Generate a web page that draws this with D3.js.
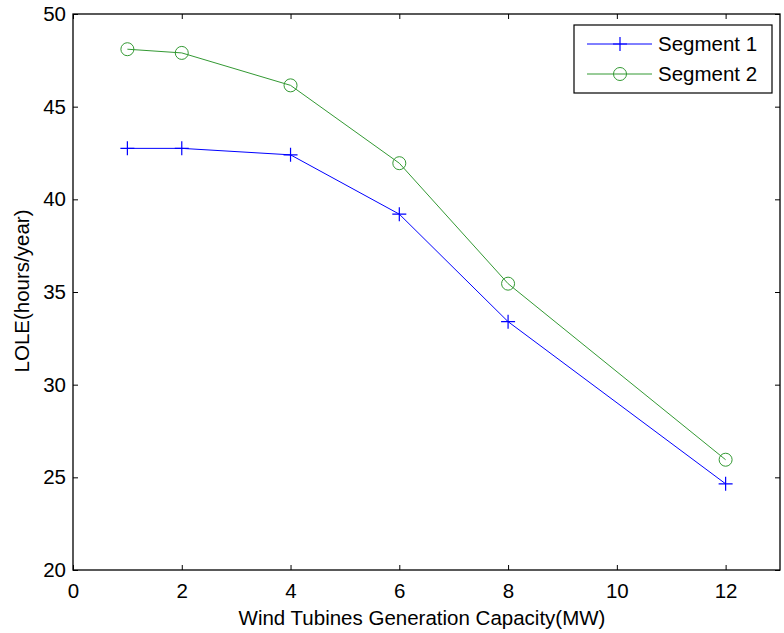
<!DOCTYPE html>
<html><head><meta charset="utf-8">
<script src="https://cdn.jsdelivr.net/npm/d3@7"></script>
<style>body{margin:0;background:#fff}svg{display:block}text{font-family:"Liberation Sans",Arial,sans-serif}</style>
</head><body>
<svg id="c" width="784" height="633"></svg>
<script>
const xValues = [1, 2, 4, 6, 8, 12];
const segment1 = [42.75, 42.75, 42.4, 39.2, 33.4, 24.65];
const segment2 = [48.1, 47.9, 46.15, 41.95, 35.45, 25.95];
const seriesNames = ["Segment 1", "Segment 2"];
const xTicks = [0, 2, 4, 6, 8, 10, 12];
const yTicks = [20, 25, 30, 35, 40, 45, 50];

const svg = d3.select("#c");
const L = 73, R = 780, T = 14, B = 570;
const FS = 20.5;
const x = d3.scaleLinear().domain([0, 13]).range([L, R]);
const y = d3.scaleLinear().domain([20, 50]).range([B, T]);

// box
svg.append("rect").attr("x", L).attr("y", T).attr("width", R - L).attr("height", B - T)
  .attr("fill", "none").attr("stroke", "#000").attr("stroke-width", 1.3);

svg.append("g").attr("transform", `translate(0,${B})`)
  .call(d3.axisBottom(x).tickValues(xTicks).tickSizeInner(-5).tickSizeOuter(0).tickPadding(13));
svg.append("g").attr("transform", `translate(${L},0)`)
  .call(d3.axisLeft(y).tickValues(yTicks).tickSizeInner(-5).tickSizeOuter(0).tickPadding(7));
svg.append("g").attr("transform", `translate(0,${T})`)
  .call(d3.axisTop(x).tickValues(xTicks).tickSizeInner(-5).tickSizeOuter(0).tickFormat(""));
svg.append("g").attr("transform", `translate(${R},0)`)
  .call(d3.axisRight(y).tickValues(yTicks).tickSizeInner(-5).tickSizeOuter(0).tickFormat(""));
svg.selectAll(".domain").attr("stroke", "none");
svg.selectAll(".tick line").attr("stroke", "#000");
svg.selectAll(".tick text").attr("font-size", FS).attr("fill", "#000")
  .style("font-family", '"Liberation Sans",Arial,sans-serif');

const line = d3.line().x((d, i) => x(xValues[i])).y(d => y(d));
const colors = ["#0000ff", "#339933"];

svg.append("path").datum(segment1).attr("d", line).attr("fill", "none").attr("stroke", colors[0]).attr("stroke-width", 1);
svg.append("path").datum(segment2).attr("d", line).attr("fill", "none").attr("stroke", colors[1]).attr("stroke-width", 1);

const plus = (g, cx, cy, c) => {
  g.append("path").attr("d", `M${cx-7},${cy}H${cx+7}M${cx},${cy-7}V${cy+7}`)
    .attr("stroke", c).attr("stroke-width", 1.2).attr("fill", "none");
};
const mg = svg.append("g");
segment1.forEach((v, i) => plus(mg, x(xValues[i]), y(v), colors[0]));
svg.append("g").selectAll("circle").data(segment2).join("circle")
  .attr("cx", (d, i) => x(xValues[i])).attr("cy", d => y(d)).attr("r", 6.5)
  .attr("fill", "none").attr("stroke", colors[1]).attr("stroke-width", 1);

// labels
svg.append("text").attr("x", 422).attr("y", 625).attr("text-anchor", "middle")
  .attr("font-size", FS).text("Wind Tubines Generation Capacity(MW)");
svg.append("text").attr("transform", `translate(29,291) rotate(-90)`).attr("text-anchor", "middle")
  .attr("font-size", FS).text("LOLE(hours/year)");

// legend
const lg = svg.append("g");
lg.append("rect").attr("x", 574).attr("y", 25).attr("width", 198).attr("height", 68)
  .attr("fill", "#fff").attr("stroke", "#000").attr("stroke-width", 1.2);
[0, 1].forEach(i => {
  const yy = 44 + i * 30;
  lg.append("line").attr("x1", 587).attr("x2", 652).attr("y1", yy).attr("y2", yy).attr("stroke", colors[i]);
  if (i === 0) plus(lg, 620, yy, colors[0]);
  else lg.append("circle").attr("cx", 620).attr("cy", yy).attr("r", 6.5).attr("fill", "none").attr("stroke", colors[1]);
  lg.append("text").attr("x", 658).attr("y", yy + 7).attr("font-size", FS).text(seriesNames[i]);
});
</script>
</body></html>
